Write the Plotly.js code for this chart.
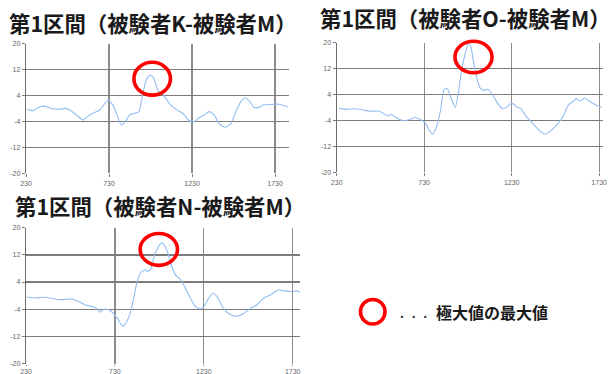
<!DOCTYPE html>
<html>
<head>
<meta charset="utf-8">
<script src="https://cdn.plot.ly/plotly-3.0.1.min.js"></script>
<style>
  html, body { margin: 0; padding: 0; background: #fff; }
  #chart { width: 614px; height: 374px; }
</style>
</head>
<body>
<div id="chart"></div>
<script>
// 第1区間: 被験者K-被験者M
const kmX = [238,274,304,344,374,424,464,494,534,574,598,634,674,724,754,778,804,834,854,884,910,934,954,978,998,1024,1058,1094,1134,1174,1214,1244,1274,1304,1334,1364,1394,1430,1464,1498,1524,1550,1578,1604,1634,1654,1694,1754,1784,1806];
const kmY = [-0.3,-0.7,0.3,0.7,0.1,-0.3,0,-0.5,-2,-3.6,-2.6,-1.5,-0.5,2.6,1.0,-2.0,-5.1,-3.6,-2,-1.5,-1.0,4.6,8.7,10.3,9.5,5.6,4.1,1.5,-0.3,-1.5,-3.8,-4.1,-2.8,-2,-1,-2,-4.8,-5.8,-4.6,-0.5,2.1,3.3,2.1,0.3,0.3,1.0,1.2,1.3,0.9,0.5];

// 第1区間: 被験者O-被験者M
const omX = [243,291,338,382,420,468,496,525,538,563,591,610,648,677,702,734,759,778,801,824,843,862,887,908,925,944,969,982,997,1010,1029,1052,1071,1096,1115,1144,1178,1201,1224,1243,1262,1281,1315,1353,1392,1420,1449,1487,1525,1553,1582,1601,1620,1645,1668,1696,1725,1744];
const omY = [-0.3,-0.6,-0.4,-0.8,-1.2,-1.1,-1.8,-2.7,-2.1,-2.9,-3.7,-4.1,-3.7,-3.1,-3.6,-4.7,-7.0,-8.3,-5.9,-0.8,5.5,5.8,2.3,0,4.3,11.5,17.6,19.7,18.7,14.6,9.4,5.8,5.3,5.5,4.3,1.7,-0.4,0,1.2,1.0,0,-0.3,-2.9,-5.1,-7.3,-8.3,-7.4,-5.4,-2.7,0.7,1.9,2.7,1.9,2.9,2.1,1.2,0.4,0];

// 第1区間: 被験者N-被験者M
const nmX = [237,281,327,374,421,487,524,561,599,627,646,669,693,721,744,774,793,815,834,853,876,900,913,932,951,969,994,1013,1031,1050,1075,1098,1126,1154,1182,1206,1229,1252,1282,1304,1332,1361,1389,1417,1454,1492,1529,1567,1604,1651,1679,1717,1754,1771];
const nmY = [-0.4,-0.7,-0.5,-0.8,-1.2,-1.0,-1.7,-2.7,-3.2,-3.7,-4.9,-4.0,-4.2,-5.2,-6.7,-9.1,-7.9,-5.4,-1.2,3.7,6.8,7.6,7.1,7.8,11.7,13.9,15.6,14.4,12.0,8.5,5.8,4.8,2.2,-0.7,-3.2,-3.9,-3.4,-1.2,0.7,-0.3,-3.0,-4.9,-5.8,-6.1,-5.3,-3.7,-2.7,-0.7,0.2,1.7,1.4,1.2,1.4,1.0];

const titles = ['第1区間（被験者K-被験者M）', '第1区間（被験者O-被験者M）', '第1区間（被験者N-被験者M）'];
const xTicks = [230, 730, 1230, 1730];
const yTicks = [20, 12, 4, -4, -12, -20];
const legendDots = '.  .  .';
const legendText = '極大値の最大値';

// peak-of-maxima ellipses, given in data units [x0, x1, y0, y1]
const peakBoxes = [[880, 1100, 4.1, 14.2], [906, 1118, 10.7, 20.4], [872, 1082, 8.9, 18.3]];

const Y_RANGE = [-20, 20];
const lineColor = '#93bdf0';
const gridColor = '#7c7c7c';
const vGridColor = '#8c8c8c';

function yFrac(v) { return (v - Y_RANGE[0]) / (Y_RANGE[1] - Y_RANGE[0]); }

function trace(x, y, n) {
  return {
    x: x, y: y, type: 'scatter', mode: 'lines',
    xaxis: 'x' + (n === 1 ? '' : n), yaxis: 'y' + (n === 1 ? '' : n),
    line: { color: lineColor, width: 1.1, shape: 'spline', smoothing: 0.5 },
    hoverinfo: 'skip', showlegend: false
  };
}

function xAxis(domain, range, anchor, tlen) {
  return {
    domain: domain, range: range, anchor: anchor,
    tickmode: 'array', tickvals: xTicks, ticktext: xTicks.map(String),
    showgrid: true, gridcolor: vGridColor, gridwidth: 1.2,
    zeroline: false, showline: false,
    ticks: 'outside', ticklen: tlen, tickcolor: gridColor,
    tickfont: { family: 'Liberation Sans, Arial', size: 7, color: '#666' }
  };
}

function yAxis(domain, anchor) {
  return {
    domain: domain, range: Y_RANGE, anchor: anchor,
    tickmode: 'array', tickvals: yTicks, ticktext: yTicks.map(String),
    showgrid: true, gridcolor: gridColor, gridwidth: 1.3,
    zeroline: false, showline: true, linecolor: '#6a6a6a', linewidth: 1.2,
    ticks: 'outside', ticklen: 3, tickcolor: gridColor,
    tickfont: { family: 'Liberation Sans, Arial', size: 7, color: '#666' }
  };
}

const W = 614, H = 374;
const px = v => v / W;
const py = v => 1 - v / H;

const data = [trace(kmX, kmY, 1), trace(omX, omY, 2), trace(nmX, nmY, 3)];

const refs = [['x', 'y domain'], ['x2', 'y2 domain'], ['x3', 'y3 domain']];
const shapes = peakBoxes.map((b, i) => ({
  type: 'circle', xref: refs[i][0], yref: refs[i][1],
  x0: b[0], x1: b[1], y0: yFrac(b[2]), y1: yFrac(b[3]),
  line: { color: '#ff0000', width: 3.6 }, layer: 'above'
}));
// legend marker
shapes.push({
  type: 'circle', xref: 'paper', yref: 'paper',
  x0: px(360.5), x1: px(385), y0: py(324), y1: py(299.5),
  line: { color: '#ff0000', width: 3.6 }
});

const titleFont = { family: 'Noto Sans CJK JP', size: 21.4, color: '#1a1a1a', weight: 700 };
const annotations = [
  { text: titles[0], x: px(153), y: py(22) },
  { text: titles[1], x: px(465), y: py(18) },
  { text: titles[2], x: px(160), y: py(205) }
].map(a => Object.assign(a, {
  xref: 'paper', yref: 'paper', xanchor: 'center', yanchor: 'middle',
  showarrow: false, font: titleFont
}));
annotations.push({
  text: legendDots, xref: 'paper', yref: 'paper', x: px(398), y: py(313),
  xanchor: 'left', yanchor: 'middle', showarrow: false,
  font: { family: 'Liberation Sans, Arial', size: 14, color: '#333', weight: 700 }
});
annotations.push({
  text: legendText, xref: 'paper', yref: 'paper', x: px(434), y: py(312),
  xanchor: 'left', yanchor: 'middle', showarrow: false,
  font: { family: 'Noto Sans CJK JP', size: 16, color: '#1a1a1a', weight: 700 }
});

const layout = {
  width: W, height: H,
  margin: { l: 0, r: 0, t: 0, b: 0 },
  paper_bgcolor: '#ffffff', plot_bgcolor: '#ffffff',
  showlegend: false,
  xaxis: xAxis([px(26), px(289)], [230, 1814], 'y', 3),
  yaxis: yAxis([py(173.3), py(43.5)], 'x'),
  xaxis2: xAxis([px(336.7), px(603)], [230, 1752], 'y2', 3),
  yaxis2: yAxis([py(172.3), py(42.5)], 'x2'),
  xaxis3: xAxis([px(26), px(300)], [230, 1771], 'y3', 1),
  yaxis3: yAxis([py(363.5), py(227.7)], 'x3'),
  shapes: shapes,
  annotations: annotations
};

Plotly.newPlot('chart', data, layout, { staticPlot: true, displayModeBar: false });
</script>
</body>
</html>
